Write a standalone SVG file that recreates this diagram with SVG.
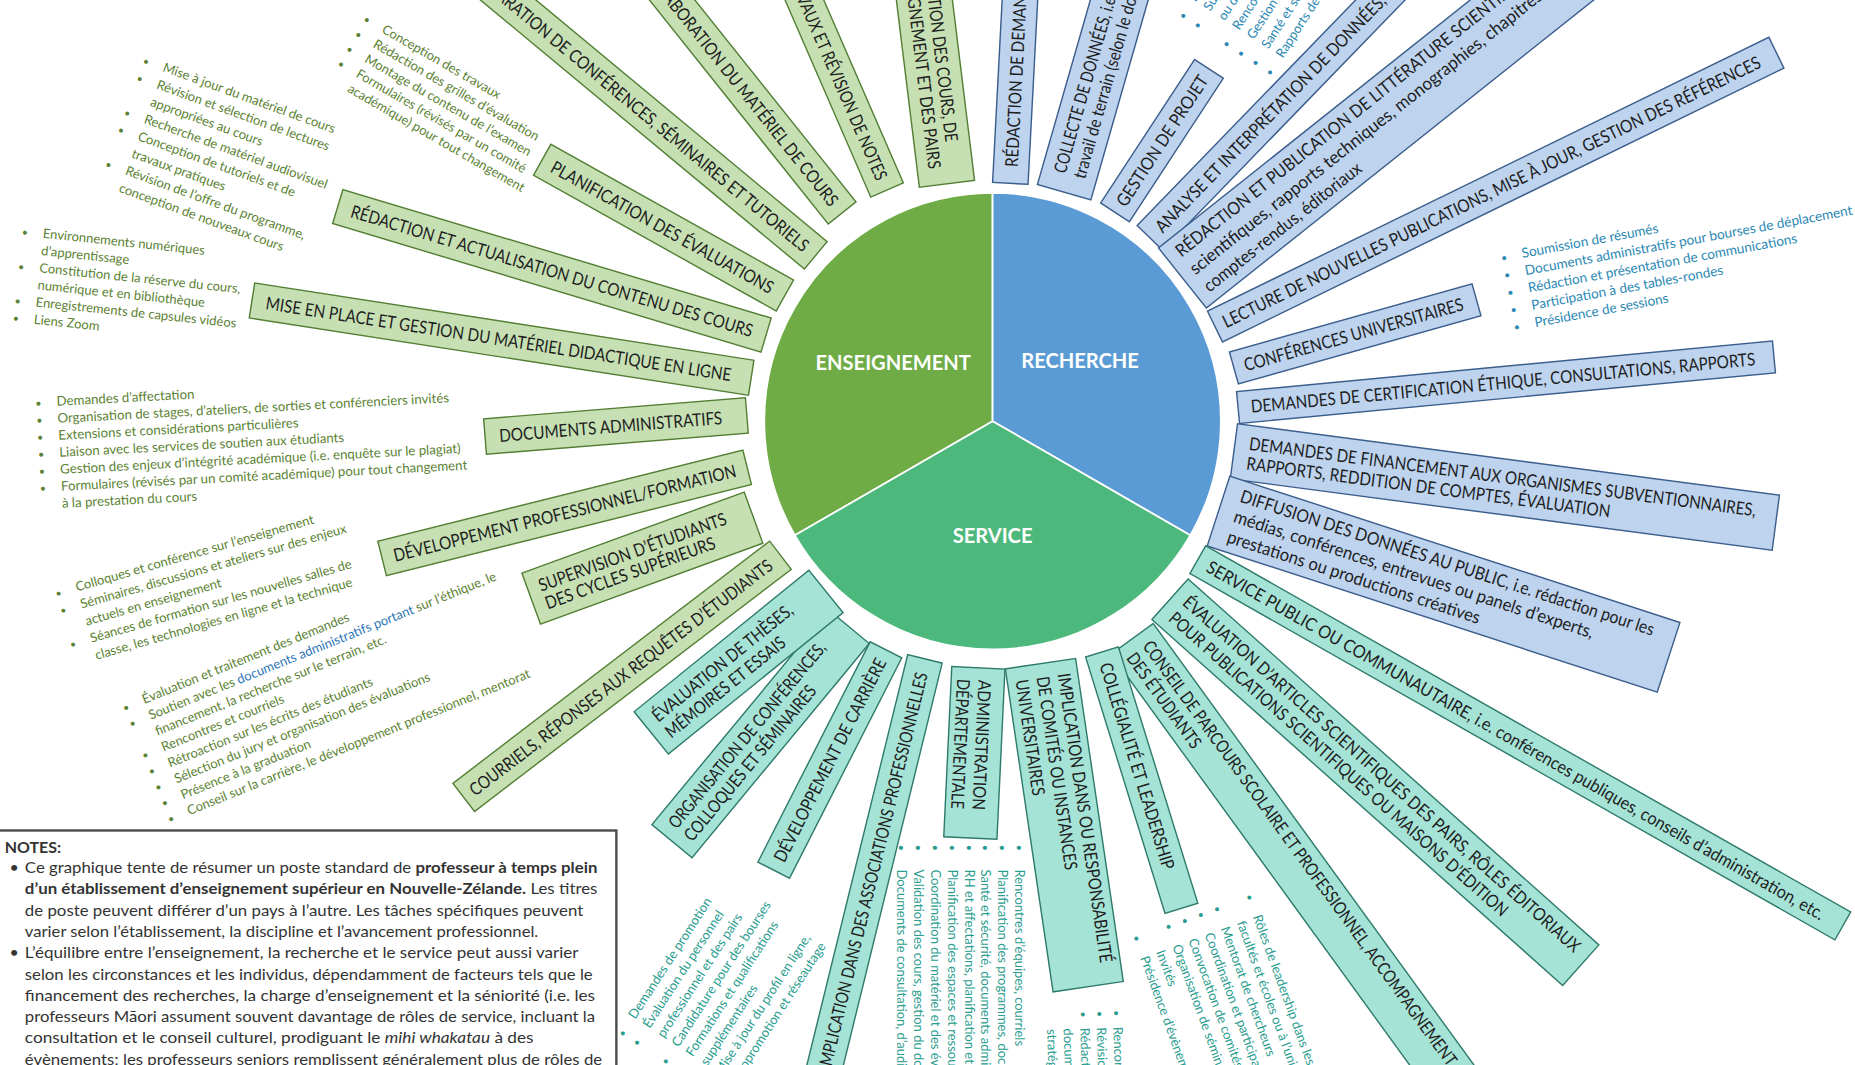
<svg xmlns="http://www.w3.org/2000/svg" width="1855" height="1065" viewBox="0 0 1855 1065">
<style>
  .gb{fill:#c6e0b4;stroke:#527f33;stroke-width:1.2}
  .bb{fill:#bdd3ee;stroke:#3b5e8c;stroke-width:1.2}
  .sb{fill:#a6e3d7;stroke:#2f7b6b;stroke-width:1.2}
  .t{font-family:Lato,'Liberation Sans',sans-serif;font-size:15px;fill:#1e1e1e}
  .pl{font-family:Lato,'Liberation Sans',sans-serif;font-size:17px;font-weight:700;fill:#ffffff}
  .lg{font-family:Lato,'Liberation Sans',sans-serif;font-size:11px;fill:#5b8233}
  .lb{font-family:Lato,'Liberation Sans',sans-serif;font-size:11px;fill:#2b88b4}
  .ls{font-family:Lato,'Liberation Sans',sans-serif;font-size:11px;fill:#2a9d8f}
  .nt{font-family:Lato,'Liberation Sans',sans-serif;font-size:13.5px;fill:#333333}
  .b{font-size:9px}
</style>
<rect width="1855" height="1065" fill="#ffffff"/>
<g transform="scale(1.18304)">

<!-- central pie -->
<g id="pie" stroke="#ffffff" stroke-width="1.5">
  <path d="M839,356 L839,163 A193,193 0 0 0 671.9,452.5 Z" fill="#6fac46"/>
  <path d="M839,356 L839,163 A193,193 0 0 1 1006.1,452.5 Z" fill="#5b9bd5"/>
  <path d="M839,356 L1006.1,452.5 A193,193 0 0 1 671.9,452.5 Z" fill="#4cb87c"/>
</g>
<g id="pie-labels">
  <text class="pl" x="755" y="313" text-anchor="middle">ENSEIGNEMENT</text>
  <text class="pl" x="913" y="311" text-anchor="middle">RECHERCHE</text>
  <text class="pl" x="839" y="459" text-anchor="middle">SERVICE</text>
</g>

<!-- teaching boxes -->
<g id="g-courriels" transform="translate(392,674) rotate(-37.4)">
  <rect class="gb" x="0" y="-15" width="337" height="30"/>
  <text class="t" x="8" y="5.5" textLength="318" lengthAdjust="spacingAndGlyphs">COURRIELS, RÉPONSES AUX REQUÊTES D’ÉTUDIANTS</text>
</g>
<g id="g-supervision" transform="translate(449,506) rotate(-20)">
  <rect class="gb" x="0" y="-23" width="200" height="46"/>
  <text class="t" x="10" y="-2.5" textLength="168" lengthAdjust="spacingAndGlyphs">SUPERVISION D’ÉTUDIANTS</text>
  <text class="t" x="10" y="13.5" textLength="152" lengthAdjust="spacingAndGlyphs">DES CYCLES SUPÉRIEURS</text>
</g>
<g id="g-developpement" transform="translate(323,472) rotate(-14)">
  <rect class="gb" x="0" y="-15" width="318" height="30"/>
  <text class="t" x="10" y="5.5" textLength="298" lengthAdjust="spacingAndGlyphs">DÉVELOPPEMENT PROFESSIONNEL/FORMATION</text>
</g>
<g id="g-documents" transform="translate(410,369) rotate(-4.6)">
  <rect class="gb" x="0" y="-15" width="222" height="30"/>
  <text class="t" x="12" y="5.5" textLength="189" lengthAdjust="spacingAndGlyphs">DOCUMENTS ADMINISTRATIFS</text>
</g>
<g id="g-materiel-en-ligne" transform="translate(213,254) rotate(8.8)">
  <rect class="gb" x="0" y="-15" width="427" height="30"/>
  <text class="t" x="12" y="5.5" textLength="398" lengthAdjust="spacingAndGlyphs">MISE EN PLACE ET GESTION DU MATÉRIEL DIDACTIQUE EN LIGNE</text>
</g>
<g id="g-contenu" transform="translate(285.5,174.6) rotate(16.7)">
  <rect class="gb" x="0" y="-15" width="378" height="30"/>
  <text class="t" x="12" y="5.5" textLength="354" lengthAdjust="spacingAndGlyphs">RÉDACTION ET ACTUALISATION DU CONTENU DES COURS</text>
</g>
<g id="g-evaluations" transform="translate(458.3,135.1) rotate(29.2)">
  <rect class="gb" x="0" y="-15" width="235" height="30"/>
  <text class="t" x="10" y="5.5" textLength="213" lengthAdjust="spacingAndGlyphs">PLANIFICATION DES ÉVALUATIONS</text>
</g>
<g id="g-conferences" transform="translate(391,-32) rotate(39.7)">
  <rect class="gb" x="0" y="-15" width="388" height="30"/>
  <text class="t" x="10" y="5.5" textLength="368" lengthAdjust="spacingAndGlyphs">PRÉPARATION DE CONFÉRENCES, SÉMINAIRES ET TUTORIELS</text>
</g>
<g id="g-elaboration" transform="translate(549,-24) rotate(51.4)">
  <rect class="gb" x="0" y="-15" width="261" height="30"/>
  <text class="t" x="10" y="5.5" textLength="241" lengthAdjust="spacingAndGlyphs">ÉLABORATION DU MATÉRIEL DE COURS</text>
</g>
<g id="g-correction" transform="translate(623,-131) rotate(66.5)">
  <rect class="gb" x="0" y="-15" width="318" height="30"/>
  <text class="t" x="10" y="5.5" textLength="298" lengthAdjust="spacingAndGlyphs">CORRECTION DES TRAVAUX ET RÉVISION DE NOTES</text>
</g>
<g id="g-evaluation-cours" transform="translate(774,-60) rotate(83)">
  <rect class="gb" x="0" y="-23.5" width="217" height="47"/>
  <text class="t" x="14" y="-3" textLength="168" lengthAdjust="spacingAndGlyphs">ÉVALUATION DES COURS, DE</text>
  <text class="t" x="14" y="14" textLength="189" lengthAdjust="spacingAndGlyphs">L’ENSEIGNEMENT ET DES PAIRS</text>
</g>

<!-- research boxes -->
<g id="r-demandes" transform="translate(854,155) rotate(-87)">
  <rect class="bb" x="0" y="-15" width="360" height="30"/>
  <text class="t" x="14" y="5.5" textLength="281" lengthAdjust="spacingAndGlyphs">RÉDACTION DE DEMANDES DE SUBVENTIONS</text>
</g>
<g id="r-collecte" transform="translate(899.5,162.5) rotate(-74)">
  <rect class="bb" x="0" y="-23.5" width="300" height="47"/>
  <text class="t" x="15" y="-3" textLength="214" lengthAdjust="spacingAndGlyphs">COLLECTE DE DONNÉES, i.e. entrevues,</text>
  <text class="t" x="15" y="14" textLength="196" lengthAdjust="spacingAndGlyphs">travail de terrain (selon le domaine)</text>
</g>
<g id="r-projet" transform="translate(942.5,179.5) rotate(-56.8)">
  <rect class="bb" x="0" y="-14.5" width="145" height="29"/>
  <text class="t" x="8" y="5.5" textLength="129" lengthAdjust="spacingAndGlyphs">GESTION DE PROJET</text>
</g>
<g id="r-analyse" transform="translate(972,201) rotate(-45.9)">
  <rect class="bb" x="0" y="-15" width="360" height="30"/>
  <text class="t" x="10" y="5.5" textLength="343" lengthAdjust="spacingAndGlyphs">ANALYSE ET INTERPRÉTATION DE DONNÉES, RÉSULTATS</text>
</g>
<g id="r-publication" transform="translate(999.5,235) rotate(-38.5)">
  <rect class="bb" x="0" y="-32.5" width="520" height="65"/>
  <text class="t" x="10" y="-14" textLength="455" lengthAdjust="spacingAndGlyphs">RÉDACTION ET PUBLICATION DE LITTÉRATURE SCIENTIFIQUE, i.e. articles</text>
  <text class="t" x="10" y="5" textLength="436" lengthAdjust="spacingAndGlyphs">scientifiques, rapports techniques, monographies, chapitres de livres,</text>
  <text class="t" x="10" y="24" textLength="166" lengthAdjust="spacingAndGlyphs">comptes-rendus, éditoriaux</text>
</g>
<g id="r-lecture" transform="translate(1027,276) rotate(-26)">
  <rect class="bb" x="0" y="-14.5" width="528" height="29"/>
  <text class="t" x="8" y="5.5" textLength="504" lengthAdjust="spacingAndGlyphs">LECTURE DE NOUVELLES PUBLICATIONS, MISE À JOUR, GESTION DES RÉFÉRENCES</text>
</g>
<g id="r-conferences" transform="translate(1043,311) rotate(-15.7)">
  <rect class="bb" x="0" y="-14" width="213" height="28"/>
  <text class="t" x="9" y="5.5" textLength="192" lengthAdjust="spacingAndGlyphs">CONFÉRENCES UNIVERSITAIRES</text>
</g>
<g id="r-ethique" transform="translate(1046.5,344.5) rotate(-5.4)">
  <rect class="bb" x="0" y="-13.5" width="455" height="27"/>
  <text class="t" x="11" y="5.5" textLength="428" lengthAdjust="spacingAndGlyphs">DEMANDES DE CERTIFICATION ÉTHIQUE, CONSULTATIONS, RAPPORTS</text>
</g>
<g id="r-financement" transform="translate(1043,381.5) rotate(7.5)">
  <rect class="bb" x="0" y="-23.5" width="462" height="47"/>
  <text class="t" x="12" y="-3" textLength="432" lengthAdjust="spacingAndGlyphs">DEMANDES DE FINANCEMENT AUX ORGANISMES SUBVENTIONNAIRES,</text>
  <text class="t" x="12" y="14" textLength="310" lengthAdjust="spacingAndGlyphs">RAPPORTS, REDDITION DE COMPTES, ÉVALUATION</text>
</g>
<g id="r-diffusion" transform="translate(1030,432) rotate(18)">
  <rect class="bb" x="0" y="-31" width="400" height="62"/>
  <text class="t" x="14" y="-13" textLength="367" lengthAdjust="spacingAndGlyphs">DIFFUSION DES DONNÉES AU PUBLIC, i.e. rédaction pour les</text>
  <text class="t" x="14" y="5" textLength="319" lengthAdjust="spacingAndGlyphs">médias, conférences, entrevues ou panels d’experts,</text>
  <text class="t" x="14" y="23" textLength="224" lengthAdjust="spacingAndGlyphs">prestations ou productions créatives</text>
</g>

<!-- service boxes -->
<g id="s-public" transform="translate(1012.5,473) rotate(29.6)">
  <rect class="sb" x="0" y="-13.5" width="627" height="27"/>
  <text class="t" x="10" y="5.5" textLength="598" lengthAdjust="spacingAndGlyphs">SERVICE PUBLIC OU COMMUNAUTAIRE, i.e. conférences publiques, conseils d’administration, etc.</text>
</g>
<g id="s-articles" transform="translate(989,506.5) rotate(41.7)">
  <rect class="sb" x="0" y="-23" width="465" height="46"/>
  <text class="t" x="10" y="-3.5" textLength="444" lengthAdjust="spacingAndGlyphs">ÉVALUATION D’ARTICLES SCIENTIFIQUES DES PAIRS, RÔLES ÉDITORIAUX</text>
  <text class="t" x="10" y="14.5" textLength="378" lengthAdjust="spacingAndGlyphs">POUR PUBLICATIONS SCIENTIFIQUES OU MAISONS D’ÉDITION</text>
</g>
<g id="s-conseil" transform="translate(957,540) rotate(54)">
  <rect class="sb" x="0" y="-22" width="520" height="44"/>
  <text class="t" x="10" y="-3" textLength="440" lengthAdjust="spacingAndGlyphs">CONSEIL DE PARCOURS SCOLAIRE ET PROFESSIONNEL, ACCOMPAGNEMENT</text>
  <text class="t" x="10" y="14" textLength="96" lengthAdjust="spacingAndGlyphs">DES ÉTUDIANTS</text>
</g>
<g id="s-collegialite" transform="translate(931.5,551) rotate(72.8)">
  <rect class="sb" x="0" y="-14.5" width="227" height="29"/>
  <text class="t" x="10" y="5.5" textLength="182" lengthAdjust="spacingAndGlyphs">COLLÉGIALITÉ ET LEADERSHIP</text>
</g>
<g id="s-comites" transform="translate(879.5,561) rotate(81.6)">
  <rect class="sb" x="0" y="-30" width="276" height="60"/>
  <text class="t" x="11" y="-13" textLength="247" lengthAdjust="spacingAndGlyphs">IMPLICATION DANS OU RESPONSABILITÉ</text>
  <text class="t" x="11" y="5" textLength="165" lengthAdjust="spacingAndGlyphs">DE COMITÉS OU INSTANCES</text>
  <text class="t" x="11" y="23" textLength="99" lengthAdjust="spacingAndGlyphs">UNIVERSITAIRES</text>
</g>
<g id="s-administration" transform="translate(827,564.5) rotate(92.7)">
  <rect class="sb" x="0" y="-22.5" width="144" height="45"/>
  <text class="t" x="10" y="-0.5" textLength="110" lengthAdjust="spacingAndGlyphs">ADMINISTRATION</text>
  <text class="t" x="10" y="17.5" textLength="110" lengthAdjust="spacingAndGlyphs">DÉPARTEMENTALE</text>
</g>
<g id="s-associations" transform="translate(688.8,935.7) rotate(-76.2)">
  <rect class="sb" x="0" y="-15" width="390" height="30"/>
  <text class="t" x="378" y="5.5" text-anchor="end" textLength="345" lengthAdjust="spacingAndGlyphs">IMPLICATION DANS DES ASSOCIATIONS PROFESSIONNELLES</text>
</g>
<g id="s-carriere" transform="translate(654,735.5) rotate(-63)">
  <rect class="sb" x="0" y="-15" width="209" height="30"/>
  <text class="t" x="9" y="5.5" textLength="191" lengthAdjust="spacingAndGlyphs">DÉVELOPPEMENT DE CARRIÈRE</text>
</g>
<g id="s-organisation" transform="translate(568,711) rotate(-50.4)">
  <rect class="sb" x="0" y="-22" width="235" height="44"/>
  <text class="t" x="10" y="-3" textLength="199" lengthAdjust="spacingAndGlyphs">ORGANISATION DE CONFÉRENCES,</text>
  <text class="t" x="10" y="14" textLength="166" lengthAdjust="spacingAndGlyphs">COLLOQUES ET SÉMINAIRES</text>
</g>
<g id="s-theses" transform="translate(550.5,619.5) rotate(-39)">
  <rect class="sb" x="0" y="-23" width="190" height="46"/>
  <text class="t" x="10" y="-3" textLength="148" lengthAdjust="spacingAndGlyphs">ÉVALUATION DE THÈSES,</text>
  <text class="t" x="10" y="14.5" textLength="126" lengthAdjust="spacingAndGlyphs">MÉMOIRES ET ESSAIS</text>
</g>

<!-- teaching task lists -->
<g id="list-evaluations" class="lg" transform="translate(322,27) rotate(30)">
  <text x="0" y="0">Conception des travaux</text>
  <text x="0" y="14.5">Rédaction des grilles d’évaluation</text>
  <text x="0" y="29">Montage du contenu de l’examen</text>
  <text x="0" y="43.5">Formulaires (révisés par un comité</text>
  <text x="0" y="58">académique) pour tout changement</text>
  <text class="b" x="-18" y="0">•</text><text class="b" x="-18" y="14.5">•</text><text class="b" x="-18" y="29">•</text><text class="b" x="-18" y="43.5">•</text>
</g>
<g id="list-contenu" class="lg" transform="translate(137,60) rotate(20)">
  <text x="0" y="0">Mise à jour du matériel de cours</text>
  <text x="0" y="15.5">Révision et sélection de lectures</text>
  <text x="0" y="31">appropriées au cours</text>
  <text x="0" y="46.5">Recherche de matériel audiovisuel</text>
  <text x="0" y="62">Conception de tutoriels et de</text>
  <text x="0" y="77.5">travaux pratiques</text>
  <text x="0" y="93">Révision de l’offre du programme,</text>
  <text x="0" y="108.5">conception de nouveaux cours</text>
  <text class="b" x="-18" y="0">•</text><text class="b" x="-18" y="15.5">•</text><text class="b" x="-18" y="46.5">•</text><text class="b" x="-18" y="62">•</text><text class="b" x="-18" y="93">•</text>
</g>
<g id="list-en-ligne" class="lg" transform="translate(36,201) rotate(6)">
  <text x="0" y="0">Environnements numériques</text>
  <text x="0" y="14.6">d’apprentissage</text>
  <text x="0" y="29.2">Constitution de la réserve du cours,</text>
  <text x="0" y="43.8">numérique et en bibliothèque</text>
  <text x="0" y="58.4">Enregistrements de capsules vidéos</text>
  <text x="0" y="73">Liens Zoom</text>
  <text class="b" x="-18" y="0">•</text><text class="b" x="-18" y="29.2">•</text><text class="b" x="-18" y="58.4">•</text><text class="b" x="-18" y="73">•</text>
</g>
<g id="list-administratifs" class="lg" transform="translate(48,343) rotate(-3)" style="font-size:11.2px">
  <text x="0" y="0">Demandes d’affectation</text>
  <text x="0" y="14.4">Organisation de stages, d’ateliers, de sorties et conférenciers invités</text>
  <text x="0" y="28.8">Extensions et considérations particulières</text>
  <text x="0" y="43.2">Liaison avec les services de soutien aux étudiants</text>
  <text x="0" y="57.6">Gestion des enjeux d’intégrité académique (i.e. enquête sur le plagiat)</text>
  <text x="0" y="72">Formulaires (révisés par un comité académique) pour tout changement</text>
  <text x="0" y="86.4">à la prestation du cours</text>
  <text class="b" x="-18" y="0">•</text><text class="b" x="-18" y="14.4">•</text><text class="b" x="-18" y="28.8">•</text><text class="b" x="-18" y="43.2">•</text><text class="b" x="-18" y="57.6">•</text><text class="b" x="-18" y="72">•</text>
</g>
<g id="list-formation" class="lg" transform="translate(65,500) rotate(-16)">
  <text x="0" y="0">Colloques et conférence sur l’enseignement</text>
  <text x="0" y="15">Séminaires, discussions et ateliers sur des enjeux</text>
  <text x="0" y="30">actuels en enseignement</text>
  <text x="0" y="45">Séances de formation sur les nouvelles salles de</text>
  <text x="0" y="60">classe, les technologies en ligne et la technique</text>
  <text class="b" x="-18" y="0">•</text><text class="b" x="-18" y="15">•</text><text class="b" x="-18" y="45">•</text>
</g>
<g id="list-supervision" class="lg" transform="translate(122,595) rotate(-22)">
  <text x="0" y="0">Évaluation et traitement des demandes</text>
  <text x="0" y="14.5">Soutien avec les <tspan fill="#2e75b6">documents administratifs portant</tspan> sur l’éthique, le</text>
  <text x="0" y="29">financement, la recherche sur le terrain, etc.</text>
  <text x="0" y="43.5">Rencontres et courriels</text>
  <text x="0" y="58">Rétroaction sur les écrits des étudiants</text>
  <text x="0" y="72.5">Sélection du jury et organisation des évaluations</text>
  <text x="0" y="87">Présence à la graduation</text>
  <text x="0" y="101.5">Conseil sur la carrière, le développement professionnel, mentorat</text>
  <text class="b" x="-18" y="0">•</text><text class="b" x="-18" y="14.5">•</text><text class="b" x="-18" y="43.5">•</text><text class="b" x="-18" y="58">•</text><text class="b" x="-18" y="72.5">•</text><text class="b" x="-18" y="87">•</text><text class="b" x="-18" y="101.5">•</text>
</g>

<!-- research task lists -->
<g id="list-projet" class="lb" transform="translate(1023,10) rotate(-57)">
  <text x="0" y="-14.6">Recrutement d’assistants de recherche</text>
  <text x="0" y="0">Supervision d’assistants de recherche</text>
  <text x="0" y="14.6">ou d’étudiants</text>
  <text x="0" y="29.2">Rencontres d’équipe</text>
  <text x="0" y="43.8">Gestion du budget</text>
  <text x="0" y="58.4">Santé et sécurité</text>
  <text x="0" y="73">Rapports de projet</text>
  <text class="b" x="-18" y="-14.6">•</text><text class="b" x="-18" y="0">•</text><text class="b" x="-18" y="29.2">•</text><text class="b" x="-18" y="43.8">•</text><text class="b" x="-18" y="58.4">•</text><text class="b" x="-18" y="73">•</text>
</g>
<g id="list-conferences" class="lb" transform="translate(1287,218) rotate(-10.5)" style="font-size:11.5px">
  <text x="0" y="0">Soumission de résumés</text>
  <text x="0" y="14.9">Documents administratifs pour bourses de déplacement</text>
  <text x="0" y="29.8">Rédaction et présentation de communications</text>
  <text x="0" y="44.7">Participation à des tables-rondes</text>
  <text x="0" y="59.6">Présidence de sessions</text>
  <text class="b" x="-18" y="0">•</text><text class="b" x="-18" y="14.9">•</text><text class="b" x="-18" y="29.8">•</text><text class="b" x="-18" y="44.7">•</text><text class="b" x="-18" y="59.6">•</text>
</g>

<!-- service task lists -->
<g id="list-administration" class="ls" transform="translate(858,735) rotate(90)">
  <text x="0" y="0">Rencontres d’équipes, courriels</text>
  <text x="0" y="14.2">Planification des programmes, documents</text>
  <text x="0" y="28.4">Santé et sécurité, documents administratifs</text>
  <text x="0" y="42.6">RH et affectations, planification et</text>
  <text x="0" y="56.8">Planification des espaces et ressources</text>
  <text x="0" y="71">Coordination du matériel et des évaluations</text>
  <text x="0" y="85.2">Validation des cours, gestion du dossier</text>
  <text x="0" y="99.4">Documents de consultation, d’audit</text>
  <text class="b" x="-21" y="0">•</text><text class="b" x="-21" y="14.2">•</text><text class="b" x="-21" y="28.4">•</text><text class="b" x="-21" y="42.6">•</text><text class="b" x="-21" y="56.8">•</text><text class="b" x="-21" y="71">•</text><text class="b" x="-21" y="85.2">•</text><text class="b" x="-21" y="99.4">•</text>
</g>
<g id="list-carriere" class="ls" transform="translate(537,862) rotate(-57)">
  <text x="0" y="0">Demandes de promotion</text>
  <text x="0" y="14.5">Évaluation du personnel</text>
  <text x="0" y="29">professionnel et des pairs</text>
  <text x="0" y="43.5">Candidature pour des bourses</text>
  <text x="0" y="58">Formations et qualifications</text>
  <text x="0" y="72.5">supplémentaires</text>
  <text x="0" y="87">Mise à jour du profil en ligne,</text>
  <text x="0" y="101.5">autopromotion et réseautage</text>
  <text class="b" x="-18" y="0">•</text><text class="b" x="-18" y="14.5">•</text><text class="b" x="-18" y="43.5">•</text><text class="b" x="-18" y="58">•</text><text class="b" x="-18" y="87">•</text>
</g>
<g id="list-comites" class="ls" transform="translate(941,868) rotate(88)">
  <text x="0" y="0">Rencontres de comités</text>
  <text x="0" y="14">Révision de politiques</text>
  <text x="0" y="28">Rédaction de</text>
  <text x="0" y="42">documents</text>
  <text x="0" y="56">stratégiques</text>
  <text class="b" x="-14" y="0">•</text><text class="b" x="-14" y="14">•</text><text class="b" x="-14" y="28">•</text>
</g>
<g id="list-collegialite" class="ls" transform="translate(1059,775) rotate(70)">
  <text x="0" y="0">Rôles de leadership dans les</text>
  <text x="0" y="14.5">facultés et écoles ou à l’université</text>
  <text x="0" y="29">Mentorat de chercheurs</text>
  <text x="0" y="43.5">Coordination et participation</text>
  <text x="0" y="58">Convocation de comités</text>
  <text x="0" y="72.5">Organisation de séminaires</text>
  <text x="0" y="87">Invités</text>
  <text x="0" y="101.5">Présidence d’évènements</text>
  <text class="b" x="-19" y="0">•</text><text class="b" x="-19" y="29">•</text><text class="b" x="-19" y="43.5">•</text><text class="b" x="-19" y="58">•</text><text class="b" x="-19" y="72.5">•</text><text class="b" x="-19" y="101.5">•</text>
</g>

<!-- notes panel -->
<g id="notes">
  <rect x="-2" y="702" width="523" height="230" fill="#ffffff" stroke="#4a4a4a" stroke-width="2"/>
  <text class="nt" x="4" y="721" font-weight="700">NOTES:</text>
  <text class="nt" x="8" y="738">•</text>
  <text class="nt" x="21" y="738" textLength="484" lengthAdjust="spacingAndGlyphs">Ce graphique tente de résumer un poste standard de <tspan font-weight="700">professeur à temps plein</tspan></text>
  <text class="nt" x="21" y="756" textLength="484" lengthAdjust="spacingAndGlyphs"><tspan font-weight="700">d’un établissement d’enseignement supérieur en Nouvelle-Zélande.</tspan> Les titres</text>
  <text class="nt" x="21" y="774" textLength="472" lengthAdjust="spacingAndGlyphs">de poste peuvent différer d’un pays à l’autre. Les tâches spécifiques peuvent</text>
  <text class="nt" x="21" y="792" textLength="434" lengthAdjust="spacingAndGlyphs">varier selon l’établissement, la discipline et l’avancement professionnel.</text>
  <text class="nt" x="8" y="810">•</text>
  <text class="nt" x="21" y="810" textLength="468" lengthAdjust="spacingAndGlyphs">L’équilibre entre l’enseignement, la recherche et le service peut aussi varier</text>
  <text class="nt" x="21" y="828" textLength="480" lengthAdjust="spacingAndGlyphs">selon les circonstances et les individus, dépendamment de facteurs tels que le</text>
  <text class="nt" x="21" y="846" textLength="482" lengthAdjust="spacingAndGlyphs">financement des recherches, la charge d’enseignement et la séniorité (i.e. les</text>
  <text class="nt" x="21" y="864" textLength="482" lengthAdjust="spacingAndGlyphs">professeurs Māori assument souvent davantage de rôles de service, incluant la</text>
  <text class="nt" x="21" y="882" textLength="430" lengthAdjust="spacingAndGlyphs">consultation et le conseil culturel, prodiguant le <tspan font-style="italic">mihi whakatau</tspan> à des</text>
  <text class="nt" x="21" y="900" textLength="488" lengthAdjust="spacingAndGlyphs">évènements; les professeurs seniors remplissent généralement plus de rôles de</text>
</g>

</g>
</svg>
